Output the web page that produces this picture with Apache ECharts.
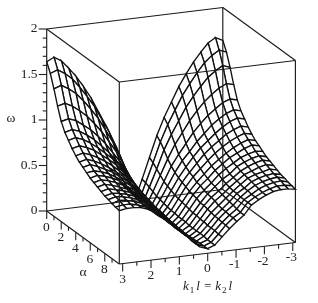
<!DOCTYPE html>
<html><head><meta charset="utf-8">
<style>html,body{margin:0;padding:0;background:#fff}#c{width:318px;height:303px}</style>
<script src="https://cdn.jsdelivr.net/npm/echarts@6/dist/echarts.min.js"></script>
</head><body><div id="c"></div>
<script>
var absK = [0,0.25,0.5,0.75,1,1.25,1.5,1.75,2,2.25,2.5,2.75,3];
var alphaVals = [0,0.5,1,1.5,2,2.5,3,3.5,4,4.5,5,5.5,6,6.5,7,7.5,8,8.5,9,9.5,10];
var wK000 = [0,.005,.01,.01,.015,.02,.02,.025,.03,.03,.03,.035,.035,.04,.04,.04,.045,.045,.05,.05,.05];
var wK025 = [.22,.21,.19,.17,.15,.14,.13,.12,.11,.11,.10,.10,.10,.09,.09,.09,.09,.09,.08,.08,.08];
var wK050 = [.45,.42,.38,.34,.30,.28,.26,.24,.23,.22,.21,.20,.19,.19,.18,.18,.17,.17,.17,.16,.16];
var wK075 = [.68,.64,.58,.51,.46,.42,.39,.37,.35,.33,.32,.31,.29,.29,.28,.27,.26,.26,.25,.25,.24];
var wK100 = [.87,.82,.74,.66,.58,.54,.50,.47,.45,.42,.41,.39,.38,.37,.36,.34,.33,.33,.32,.32,.31];
var wK125 = [1.03,.97,.88,.78,.69,.63,.60,.56,.53,.50,.48,.46,.45,.43,.42,.41,.40,.39,.38,.37,.37];
var wK150 = [1.19,1.12,1.02,.90,.80,.73,.69,.65,.61,.58,.56,.54,.52,.50,.49,.48,.48,.47,.47,.47,.47];
var wK175 = [1.32,1.24,1.13,1.00,.89,.81,.76,.72,.68,.64,.62,.60,.57,.56,.55,.54,.53,.53,.52,.52,.52];
var wK200 = [1.44,1.35,1.23,1.09,.97,.89,.83,.78,.74,.70,.68,.65,.64,.62,.61,.60,.59,.58,.57,.56,.56];
var wK225 = [1.54,1.45,1.32,1.16,1.03,.95,.89,.84,.79,.75,.72,.70,.68,.66,.64,.63,.62,.61,.60,.59,.59];
var wK250 = [1.63,1.52,1.38,1.22,1.09,1.00,.94,.88,.83,.79,.76,.73,.71,.69,.67,.65,.64,.63,.62,.61,.60];
var wK275 = [1.68,1.57,1.43,1.26,1.12,1.03,.97,.91,.86,.82,.79,.75,.73,.71,.69,.67,.65,.64,.63,.61,.60];
var wK300 = [1.64,1.54,1.40,1.24,1.10,1.01,.95,.89,.84,.80,.77,.74,.71,.69,.67,.65,.63,.62,.605,.595,.585];
var omegaRows = [wK000,wK025,wK050,wK075,wK100,wK125,wK150,wK175,wK200,wK225,wK250,wK275,wK300];
var omegaTicks = ['0','0.5','1','1.5','2'];
var alphaTicks = ['0','2','4','6','8'];
var kTicks = ['3','2','1','0','-1','-2','-3'];

// oblique view of the box, expressed in axis units of the hidden cartesian
function proj(k, a, w) {
  return [46.7 + 7.26 * a + 29.35 * (3 - k), 211 + 5.3 * a - 3.58 * (3 - k) - 91 * w];
}
var kSigned = absK.slice(1).reverse().map(function (v) { return -v; }).concat(absK);
function omegaAt(ki, ai) { return omegaRows[Math.abs(ki - 12)][ai]; }

var quads = [];
for (var ai = 0; ai < alphaVals.length - 1; ai++) {
  for (var ki = 0; ki < kSigned.length - 1; ki++) {
    quads.push([kSigned[ki], kSigned[ki + 1], alphaVals[ai], alphaVals[ai + 1],
      omegaAt(ki, ai), omegaAt(ki + 1, ai), omegaAt(ki + 1, ai + 1), omegaAt(ki, ai + 1)]);
  }
}
var quadRender = function (p, api) {
  var k0 = api.value(0), k1 = api.value(1), a0 = api.value(2), a1 = api.value(3);
  var pts = [proj(k0, a0, api.value(4)), proj(k1, a0, api.value(5)), proj(k1, a1, api.value(6)), proj(k0, a1, api.value(7))]
    .map(function (q) { return api.coord(q); });
  return { type: 'polygon', shape: { points: pts }, style: { fill: '#fff', stroke: '#111', lineWidth: 1.35 } };
};

var box = [
  [3,0,0,-3,0,0],[3,0,2,-3,0,2],[3,10,0,-3,10,0],[3,10,2,-3,10,2],
  [3,0,0,3,10,0],[-3,0,0,-3,10,0],[3,0,2,3,10,2],[-3,0,2,-3,10,2],
  [3,0,0,3,0,2],[3,10,0,3,10,2],[-3,0,0,-3,0,2],[-3,10,0,-3,10,2]
];
var boxRender = function (p, api) {
  var a = api.coord(proj(api.value(0), api.value(1), api.value(2)));
  var b = api.coord(proj(api.value(3), api.value(4), api.value(5)));
  return { type: 'line', shape: { x1: a[0], y1: a[1], x2: b[0], y2: b[1] }, style: { stroke: '#1a1a1a', lineWidth: 1.15 } };
};
var tickSegs = [];
for (var i = 0; i <= 20; i++) {
  var y = 211 - 91 * i / 10;
  tickSegs.push([46.7, y, i % 5 === 0 ? -8 : -4, 0]);
}
for (var i = 0; i <= 9; i++) {
  var q = proj(3, i, 0);
  tickSegs.push([q[0], q[1], 0, i % 2 === 0 ? 8 : 4]);
}
for (var i = -6; i <= 6; i++) {
  var k = i / 2, X = 207.7 - 28.35 * k, Y = 253.2 + 3.42 * k;
  tickSegs.push([X, Y, 0, i % 2 === 0 ? 8 : 4]);
}
var tickRender = function (p, api) {
  var a = api.coord([api.value(0), api.value(1)]);
  return { type: 'line', shape: { x1: a[0], y1: a[1], x2: a[0] + api.value(2), y2: a[1] + api.value(3) }, style: { stroke: '#222', lineWidth: 1.1 } };
};
var labels = [];
omegaTicks.forEach(function (t, i) { labels.push([37.5, 210.5 - 45.5 * i, t, 'right']); });
alphaTicks.forEach(function (t, i) { labels.push([46.3 + 14.5 * i, 227 + 10.7 * i, t, 'center']); });
kTicks.forEach(function (t, i) { labels.push([t.length > 1 ? 122.5 + 28.3 * i - 1 : 122.5 + 28.3 * i, 279 - 3.6 * i, t, 'center']); });
labels.push([11, 118, 'ω', 'center']);
labels.push([83, 272, 'α', 'center']);
var fontFam = 'Liberation Serif';
var labelRender = function (p, api) {
  var c = api.coord([api.value(0), api.value(1)]);
  var d = labels[p.dataIndex];
  return { type: 'text', x: c[0], y: c[1], style: { text: d[2], align: d[3], verticalAlign: 'middle', fontFamily: fontFam, fontSize: 13.5, fill: '#222' } };
};
var titleRender = function (p, api) {
  var c = api.coord([api.value(0), api.value(1)]);
  return { type: 'text', x: c[0], y: c[1], style: {
    text: '{i|k}{s|1}{i|l = k}{s|2}{i|l}', align: 'left', verticalAlign: 'middle',
    rich: { i: { fontFamily: fontFam, fontStyle: 'italic', fontSize: 13, fill: '#222' },
            s: { fontFamily: fontFam, fontSize: 9, fill: '#222', padding: [8, 2, 0, 1] } } } };
};
var chart = echarts.init(document.getElementById('c'), null, { renderer: 'canvas' });
chart.setOption({
  animation: false,
  backgroundColor: '#fff',
  grid: { left: 0, right: 0, top: 0, bottom: 0 },
  xAxis: { type: 'value', min: 0, max: 318, show: false },
  yAxis: { type: 'value', min: 0, max: 303, inverse: true, show: false },
  series: [
    { type: 'custom', coordinateSystem: 'cartesian2d', renderItem: quadRender, data: quads, clip: false, z: 2, silent: true },
    { type: 'custom', coordinateSystem: 'cartesian2d', renderItem: boxRender, data: box, clip: false, z: 3, silent: true },
    { type: 'custom', coordinateSystem: 'cartesian2d', renderItem: tickRender, data: tickSegs, clip: false, z: 3, silent: true },
    { type: 'custom', coordinateSystem: 'cartesian2d', renderItem: labelRender, data: labels.map(function (d) { return [d[0], d[1]]; }), clip: false, z: 4, silent: true },
    { type: 'custom', coordinateSystem: 'cartesian2d', renderItem: titleRender, data: [[183, 287]], clip: false, z: 4, silent: true }
  ]
});
</script></body></html>
